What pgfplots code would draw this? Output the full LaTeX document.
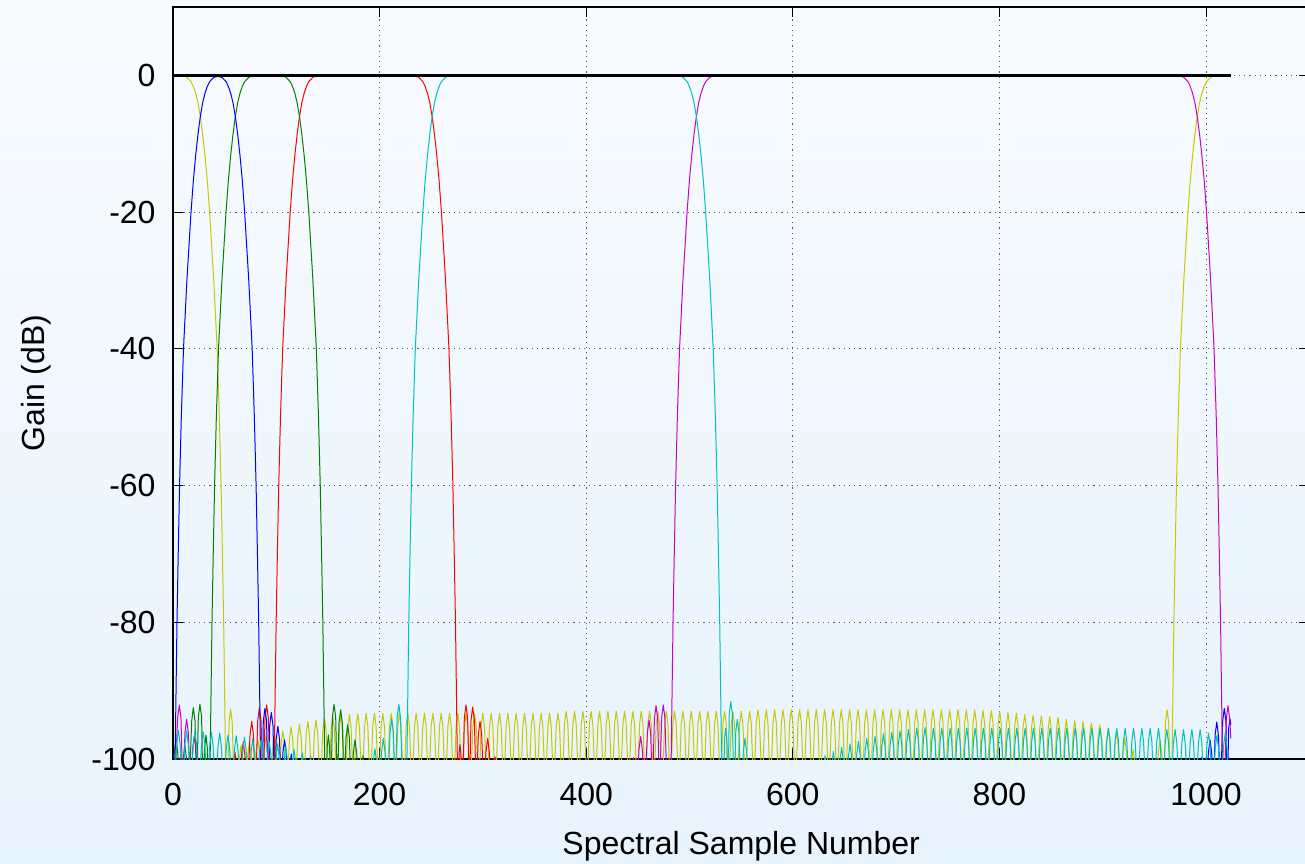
\documentclass[border=0pt]{standalone}
\usepackage{pgfplots}
\pgfplotsset{compat=1.18}
\usepackage{fontspec}
\setmainfont{Liberation Sans}
\definecolor{bgtop}{RGB}{248,251,254}
\definecolor{bgbot}{RGB}{231,243,253}
\definecolor{cR}{RGB}{255,0,0}
\definecolor{cG}{RGB}{0,128,0}
\definecolor{cB}{RGB}{0,0,255}
\definecolor{cM}{RGB}{200,0,200}
\definecolor{cC}{RGB}{0,191,191}
\definecolor{cY}{RGB}{200,200,0}
\begin{document}
\begin{tikzpicture}
\shade[top color=bgtop, bottom color=bgbot] (0,0) rectangle (652.5pt,431.5pt);
\begin{axis}[
 at={(86.5pt,52pt)}, anchor=south west, scale only axis,
 width=568.15pt, height=376pt,
 xmin=0, xmax=1100, ymin=-100, ymax=10,
 xtick={0,200,400,600,800,1000}, xticklabels={0,200,400,600,800,1000},
 ytick={-100,-80,-60,-40,-20,0}, yticklabels={-100,-80,-60,-40,-20,0},
 tick align=inside, major tick length=5pt, minor tick num=0,
 grid=major, grid style={black!65, line width=0.5pt, dash pattern=on 0.6pt off 2pt},
 axis line style={black, line width=0.6pt},
 tick style={black, line width=0.5pt},
 ticklabel style={font=\fontsize{16}{19}\selectfont},
 xticklabel style={yshift=-8.5pt},
 yticklabel style={xshift=-5.2pt},
 xlabel={Spectral Sample Number}, ylabel={Gain (dB)},
 label style={font=\fontsize{16}{19}\selectfont},
 xlabel style={at={(axis description cs:0.5,-0.116)}, anchor=center},
 ylabel style={at={(axis description cs:-0.1206,0.5)}, anchor=center},
 every axis plot/.append style={line width=0.5pt, line join=round},
]
% yellow (low + high band with long sidelobe train)
\addplot[cY] coordinates {
(0,0) (2.05,0) (6.35,-0.01) (10.15,-0.09) (13.45,-0.28) (17.45,-0.92) (19.7,-1.62) (21.95,-2.62) (24.2,-4.01) (26.45,-6.02) (28.7,-8.6) (30.95,-11.7) (33.2,-15.4) (35.45,-20) (39.45,-30) (42.75,-40) (44.85,-50) (46.55,-60) (47.85,-70) (49.05,-80) (49.95,-90) (50.85,-100) (52.5,-106)
(54.3,-94.6) (55.8,-92.7) (57.3,-94.6) (59.5,-106)
(61.9,-105) (64.3,-99.9) (65.9,-98) (67.5,-99.9)
(70.0,-105) (72.4,-99.4) (74.0,-97.5) (75.6,-99.4)
(78.0,-105) (80.4,-98.9) (82.0,-97) (83.6,-98.9)
(86.1,-105) (88.5,-98.5) (90.1,-96.6) (91.7,-98.5)
(94.2,-105) (96.6,-98.2) (98.2,-96.3) (99.8,-98.2)
(102.3,-105) (104.7,-97.8) (106.3,-95.9) (107.9,-97.8)
(110.3,-105) (112.7,-97.2) (114.3,-95.3) (115.9,-97.2)
(118.4,-105) (120.8,-96.8) (122.4,-94.9) (124.0,-96.8)
(126.5,-105) (128.9,-96.4) (130.5,-94.5) (132.1,-96.4)
(134.5,-105) (136.9,-96.2) (138.5,-94.3) (140.1,-96.2)
(142.6,-105) (145.0,-95.9) (146.6,-94.0) (148.2,-95.9)
(150.7,-105) (153.1,-95.7) (154.7,-93.8) (156.3,-95.7)
(158.7,-105) (161.1,-95.5) (162.7,-93.6) (164.3,-95.5)
(166.8,-105) (169.2,-95.4) (170.8,-93.5) (172.4,-95.4)
(174.9,-105) (177.3,-95.3) (178.9,-93.4) (180.5,-95.3)
(183.0,-105) (185.4,-95.2) (187.0,-93.3) (188.6,-95.2)
(191.0,-105) (193.4,-95.2) (195.0,-93.3) (196.6,-95.2)
(199.1,-105) (201.5,-95.2) (203.1,-93.3) (204.7,-95.2)
(207.2,-105) (209.6,-95.2) (211.2,-93.3) (212.8,-95.2)
(215.2,-105) (217.6,-95.2) (219.2,-93.3) (220.8,-95.2)
(223.3,-105) (225.7,-95.2) (227.3,-93.3) (228.9,-95.2)
(231.4,-105) (233.8,-95.2) (235.4,-93.3) (237.0,-95.2)
(239.4,-105) (241.8,-95.2) (243.4,-93.3) (245.0,-95.2)
(247.5,-105) (249.9,-95.2) (251.5,-93.3) (253.1,-95.2)
(255.6,-105) (258.0,-95.2) (259.6,-93.3) (261.2,-95.2)
(263.7,-105) (266.1,-95.2) (267.7,-93.3) (269.3,-95.2)
(271.7,-105) (274.1,-95.2) (275.7,-93.3) (277.3,-95.2)
(279.8,-105) (282.2,-95.2) (283.8,-93.3) (285.4,-95.2)
(287.9,-105) (290.3,-95.2) (291.9,-93.3) (293.5,-95.2)
(295.9,-105) (298.3,-95.2) (299.9,-93.3) (301.5,-95.2)
(304.0,-105) (306.4,-95.2) (308.0,-93.3) (309.6,-95.2)
(312.1,-105) (314.5,-95.2) (316.1,-93.3) (317.7,-95.2)
(320.1,-105) (322.5,-95.2) (324.1,-93.3) (325.7,-95.2)
(328.2,-105) (330.6,-95.2) (332.2,-93.3) (333.8,-95.2)
(336.3,-105) (338.7,-95.2) (340.3,-93.3) (341.9,-95.2)
(344.4,-105) (346.8,-95.2) (348.4,-93.3) (350.0,-95.2)
(352.4,-105) (354.8,-95.2) (356.4,-93.3) (358.0,-95.2)
(360.5,-105) (362.9,-95.2) (364.5,-93.3) (366.1,-95.2)
(368.6,-105) (371.0,-95.2) (372.6,-93.3) (374.2,-95.2)
(376.6,-105) (379.0,-94.9) (380.6,-93.0) (382.2,-94.9)
(384.7,-105) (387.1,-94.9) (388.7,-93.0) (390.3,-94.9)
(392.8,-105) (395.2,-94.9) (396.8,-93.0) (398.4,-94.9)
(400.8,-105) (403.2,-94.9) (404.8,-93.0) (406.4,-94.9)
(408.9,-105) (411.3,-94.9) (412.9,-93.0) (414.5,-94.9)
(417.0,-105) (419.4,-94.9) (421.0,-93.0) (422.6,-94.9)
(425.1,-105) (427.5,-94.9) (429.1,-93.0) (430.7,-94.9)
(433.1,-105) (435.5,-94.9) (437.1,-93.0) (438.7,-94.9)
(441.2,-105) (443.6,-94.9) (445.2,-93.0) (446.8,-94.9)
(449.3,-105) (451.7,-94.9) (453.3,-93.0) (454.9,-94.9)
(457.3,-105) (459.7,-94.9) (461.3,-93.0) (462.9,-94.9)
(465.4,-105) (467.8,-94.9) (469.4,-93.0) (471.0,-94.9)
(473.5,-105) (475.9,-94.9) (477.5,-93.0) (479.1,-94.9)
(481.5,-105) (483.9,-94.9) (485.5,-93.0) (487.1,-94.9)
(489.6,-105) (492.0,-94.9) (493.6,-93.0) (495.2,-94.9)
(497.7,-105) (500.1,-94.9) (501.7,-93.0) (503.3,-94.9)
(505.8,-105) (508.2,-94.9) (509.8,-93.0) (511.4,-94.9)
(513.8,-105) (516.2,-94.9) (517.8,-93.0) (519.4,-94.9)
(521.9,-105) (524.3,-94.9) (525.9,-93.0) (527.5,-94.9)
(530.0,-105) (532.4,-94.9) (534.0,-93.0) (535.6,-94.9)
(538.0,-105) (540.4,-94.9) (542.0,-93.0) (543.6,-94.9)
(546.1,-105) (548.5,-94.9) (550.1,-93.0) (551.7,-94.9)
(554.2,-105) (556.6,-94.9) (558.2,-93.0) (559.8,-94.9)
(562.2,-105) (564.6,-94.7) (566.2,-92.8) (567.8,-94.7)
(570.3,-105) (572.7,-94.7) (574.3,-92.8) (575.9,-94.7)
(578.4,-105) (580.8,-94.7) (582.4,-92.8) (584.0,-94.7)
(586.5,-105) (588.9,-94.7) (590.5,-92.8) (592.1,-94.7)
(594.5,-105) (596.9,-94.7) (598.5,-92.8) (600.1,-94.7)
(602.6,-105) (605.0,-94.7) (606.6,-92.8) (608.2,-94.7)
(610.7,-105) (613.1,-94.7) (614.7,-92.8) (616.3,-94.7)
(618.7,-105) (621.1,-94.7) (622.7,-92.8) (624.3,-94.7)
(626.8,-105) (629.2,-94.7) (630.8,-92.8) (632.4,-94.7)
(634.9,-105) (637.3,-94.7) (638.9,-92.8) (640.5,-94.7)
(642.9,-105) (645.3,-94.7) (646.9,-92.8) (648.5,-94.7)
(651.0,-105) (653.4,-94.7) (655.0,-92.8) (656.6,-94.7)
(659.1,-105) (661.5,-94.7) (663.1,-92.8) (664.7,-94.7)
(667.2,-105) (669.6,-94.7) (671.2,-92.8) (672.8,-94.7)
(675.2,-105) (677.6,-94.7) (679.2,-92.8) (680.8,-94.7)
(683.3,-105) (685.7,-94.7) (687.3,-92.8) (688.9,-94.7)
(691.4,-105) (693.8,-94.7) (695.4,-92.8) (697.0,-94.7)
(699.4,-105) (701.8,-94.7) (703.4,-92.8) (705.0,-94.7)
(707.5,-105) (709.9,-94.7) (711.5,-92.8) (713.1,-94.7)
(715.6,-105) (718.0,-94.7) (719.6,-92.8) (721.2,-94.7)
(723.6,-105) (726.0,-94.7) (727.6,-92.8) (729.2,-94.7)
(731.7,-105) (734.1,-94.7) (735.7,-92.8) (737.3,-94.7)
(739.8,-105) (742.2,-94.7) (743.8,-92.8) (745.4,-94.7)
(747.9,-105) (750.3,-94.7) (751.9,-92.8) (753.5,-94.7)
(755.9,-105) (758.3,-94.7) (759.9,-92.8) (761.5,-94.7)
(764.0,-105) (766.4,-94.7) (768.0,-92.8) (769.6,-94.7)
(772.1,-105) (774.5,-94.7) (776.1,-92.8) (777.7,-94.7)
(780.1,-105) (782.5,-94.8) (784.1,-92.9) (785.7,-94.8)
(788.2,-105) (790.6,-94.8) (792.2,-92.9) (793.8,-94.8)
(796.3,-105) (798.7,-95.0) (800.3,-93.1) (801.9,-95.0)
(804.3,-105) (806.7,-95.1) (808.3,-93.2) (809.9,-95.1)
(812.4,-105) (814.8,-95.2) (816.4,-93.3) (818.0,-95.2)
(820.5,-105) (822.9,-95.4) (824.5,-93.5) (826.1,-95.4)
(828.6,-105) (831.0,-95.5) (832.6,-93.6) (834.2,-95.5)
(836.6,-105) (839.0,-95.6) (840.6,-93.7) (842.2,-95.6)
(844.7,-105) (847.1,-95.7) (848.7,-93.8) (850.3,-95.7)
(852.8,-105) (855.2,-95.8) (856.8,-93.9) (858.4,-95.8)
(860.8,-105) (863.2,-96.1) (864.8,-94.2) (866.4,-96.1)
(868.9,-105) (871.3,-96.3) (872.9,-94.4) (874.5,-96.3)
(877.0,-105) (879.4,-96.4) (881.0,-94.5) (882.6,-96.4)
(885.0,-105) (887.4,-96.6) (889.0,-94.7) (890.6,-96.6)
(893.1,-105) (895.5,-96.9) (897.1,-95.0) (898.7,-96.9)
(901.2,-105) (903.6,-97.4) (905.2,-95.5) (906.8,-97.4)
(909.3,-105) (911.7,-97.9) (913.3,-96.0) (914.9,-97.9)
(917.3,-105) (919.7,-98.9) (921.3,-97.0) (922.9,-98.9)
(925.4,-105) (927.8,-100.5) (929.4,-98.6) (931.0,-100.5)
(933.4,-105) (950,-110) (952.0,-105)
(953.9,-99.1) (955.5,-97.2) (957.1,-99.1) (959.0,-105)
(960.7,-94.7) (962.3,-92.8) (963.9,-94.7) (965.5,-105)
(967.1,-100) (968,-90) (968.9,-80) (970.1,-70) (971.4,-60) (973.1,-50) (975.2,-40) (978.5,-30) (982.5,-20) (984.75,-15.4) (987,-11.7) (989.25,-8.6) (991.5,-6.02) (993.75,-4.01) (996,-2.62) (998.25,-1.62) (1000.5,-0.92) (1004.5,-0.28) (1007.8,-0.09) (1011.6,-0.01) (1015.9,0) (1024,0)
};
% red
\addplot[cR] coordinates {
(55,-110) (56.0,-105) (58.4,-100.9) (60.0,-99.0) (61.6,-100.9) (64.0,-105) (66.4,-99.4) (68.0,-97.5) (69.6,-99.4) (72.1,-105) (74.6,-96.4) (76.2,-94.5) (77.8,-96.4) (79.9,-105) (82.0,-94.4) (83.6,-92.5) (85.2,-94.4) (87.2,-105) (89.1,-94.0) (90.7,-92.1) (92.3,-94.0) (94.5,-105)
(98.05,-100) (98.95,-90) (99.85,-80) (101.05,-70) (102.35,-60) (104.05,-50) (106.15,-40) (109.45,-30) (113.45,-20) (115.7,-15.4) (117.95,-11.7) (120.2,-8.6) (122.45,-6.02) (124.7,-4.01) (126.95,-2.62) (129.2,-1.62) (131.45,-0.92) (135.45,-0.28) (138.75,-0.09) (142.55,-0.01) (146.85,0)
(226.45,0) (230.75,-0.01) (234.55,-0.09) (237.85,-0.28) (241.85,-0.92) (244.1,-1.62) (246.35,-2.62) (248.6,-4.01) (250.85,-6.02) (253.1,-8.6) (255.35,-11.7) (257.6,-15.4) (259.85,-20) (263.85,-30) (267.15,-40) (269.25,-50) (270.95,-60) (272.25,-70) (273.45,-80) (274.35,-90) (275.25,-100)
(276.2,-105) (277.0,-99.0) (277.8,-97.9) (278.6,-99.0) (280.4,-105) (282.0,-94.0) (283.6,-92.1) (285.2,-94.0) (286.9,-105) (288.5,-94.3) (290.1,-92.4) (291.7,-94.3) (293.6,-105) (295.6,-96.4) (297.2,-94.5) (298.8,-96.4) (300.9,-105) (303.0,-98.9) (304.6,-97.0) (306.2,-98.9) (308.2,-105) (310.1,-101.6) (311.7,-99.7) (313.3,-101.6) (315.5,-105)
};
% green
\addplot[cG] coordinates {
(0,-105) (1.3,-98.9) (2.9,-97.0) (4.5,-98.9) (7.2,-105) (9.9,-99.9) (11.5,-98.0) (13.1,-99.9) (15.6,-105) (18.1,-94.4) (19.7,-92.5) (21.3,-94.4) (22.9,-105) (24.5,-93.9) (26.1,-92.0) (27.7,-93.9) (29.0,-105) (30.6,-98.4) (31.9,-96.5) (33.2,-98.4) (34.5,-105)
(35.95,-100) (36.85,-90) (37.75,-80) (38.95,-70) (40.25,-60) (41.95,-50) (44.05,-40) (47.35,-30) (51.35,-20) (53.6,-15.4) (55.85,-11.7) (58.1,-8.6) (60.35,-6.02) (62.6,-4.01) (64.85,-2.62) (67.1,-1.62) (69.35,-0.92) (73.35,-0.28) (76.65,-0.09) (80.45,-0.01) (84.75,0)
(98.05,0) (102.35,-0.01) (106.15,-0.09) (109.45,-0.28) (113.45,-0.92) (115.7,-1.62) (117.95,-2.62) (120.2,-4.01) (122.45,-6.02) (124.7,-8.6) (126.95,-11.7) (129.2,-15.4) (131.45,-20) (135.45,-30) (138.75,-40) (140.85,-50) (142.55,-60) (143.85,-70) (145.05,-80) (145.95,-90) (146.85,-100)
(148.3,-105) (149.2,-98.4) (150.4,-96.5) (151.6,-98.4) (152.9,-105) (154.3,-93.9) (155.9,-92.0) (157.5,-93.9) (159.1,-105) (160.7,-94.7) (162.3,-92.8) (163.9,-94.7) (165.7,-105) (167.5,-96.9) (169.1,-95.0) (170.7,-96.9) (172.6,-105) (174.6,-99.1) (176.2,-97.2) (177.8,-99.1) (180.1,-105) (182.4,-101.4) (184.0,-99.5) (185.6,-101.4) (188,-105)
};
% blue
\addplot[cB] coordinates {
(0,-106) (2.05,-100) (2.95,-90) (3.85,-80) (5.05,-70) (6.35,-60) (8.05,-50) (10.15,-40) (13.45,-30) (17.45,-20) (19.7,-15.4) (21.95,-11.7) (24.2,-8.6) (26.45,-6.02) (28.7,-4.01) (30.95,-2.62) (33.2,-1.62) (35.45,-0.92) (39.45,-0.29) (43.4,-0.15) (47.35,-0.29) (51.35,-0.92) (53.6,-1.62) (55.85,-2.62) (58.1,-4.01) (60.35,-6.02) (62.6,-8.6) (64.85,-11.7) (67.1,-15.4) (69.35,-20) (73.35,-30) (76.65,-40) (78.75,-50) (80.45,-60) (81.75,-70) (82.95,-80) (83.85,-90) (84.75,-100)
(86.4,-105) (87.4,-94.5) (89.0,-92.6) (90.6,-94.5) (92.1,-105) (93.6,-95.1) (95.2,-93.2) (96.8,-95.1) (98.4,-105) (99.9,-97.1) (101.5,-95.2) (103.1,-97.1) (104.8,-105) (106.4,-99.1) (108.0,-97.2) (109.6,-99.1) (111.3,-105) (112.9,-101.2) (114.5,-99.3) (116.1,-101.2) (118,-105)
(120,-110) (990,-110)
(991.8,-105) (994.2,-101.7) (995.8,-99.8) (997.4,-101.7) (999.9,-105) (1002.3,-99.1) (1003.9,-97.2) (1005.5,-99.1) (1007.2,-105) (1008.8,-96.5) (1010.4,-94.6) (1012.0,-96.5) (1014.0,-105) (1016.1,-94.5) (1017.7,-92.6) (1019.3,-94.5) (1020.5,-105) (1022.0,-95.5) (1023.2,-94.1) (1024,-95)
};
% magenta
\addplot[cM] coordinates {
(1.5,-105) (4.5,-94.0) (6.1,-92.1) (7.7,-94.0) (9.6,-105) (11.6,-96.1) (13.2,-94.2) (14.8,-96.1) (16.9,-105) (19.0,-98.6) (20.6,-96.7) (22.2,-98.6) (24.6,-105) (30,-110) (440,-110)
(441.6,-105) (444.0,-101.7) (445.6,-99.8) (447.2,-101.7) (449.1,-105) (451.1,-98.6) (452.7,-96.7) (454.3,-98.6) (456.8,-105) (459.2,-96.2) (460.8,-94.3) (462.4,-96.2) (464.2,-105) (466.0,-94.1) (467.6,-92.2) (469.2,-94.1) (471.1,-105) (473.0,-94.0) (474.6,-92.1) (476.2,-94.0) (478.4,-105)
(482.25,-100) (483.15,-90) (484.05,-80) (485.25,-70) (486.55,-60) (488.25,-50) (490.35,-40) (493.65,-30) (497.65,-20) (499.9,-15.4) (502.15,-11.7) (504.4,-8.6) (506.65,-6.02) (508.9,-4.01) (511.15,-2.62) (513.4,-1.62) (515.65,-0.92) (519.65,-0.28) (522.95,-0.09) (526.75,-0.01) (531.05,0)
(967.1,0) (971.4,-0.01) (975.2,-0.09) (978.5,-0.28) (982.5,-0.92) (984.75,-1.62) (987,-2.62) (989.25,-4.01) (991.5,-6.02) (993.75,-8.6) (996,-11.7) (998.25,-15.4) (1000.5,-20) (1004.5,-30) (1007.8,-40) (1009.9,-50) (1011.6,-60) (1012.9,-70) (1014.1,-80) (1015,-90) (1015.9,-100)
(1017.6,-105) (1019.7,-94.1) (1021.3,-92.2) (1022.9,-94.1) (1024,-97)
};
% cyan
\addplot[cC] coordinates {
(1.2,-105) (3.6,-97.7) (5.2,-95.8) (6.8,-97.7)
(9.2,-105) (11.6,-97.8) (13.2,-95.9) (14.8,-97.8)
(17.2,-105) (19.6,-97.9) (21.2,-96.0) (22.8,-97.9)
(25.2,-105) (27.6,-97.9) (29.2,-96.0) (30.8,-97.9)
(33.2,-105) (35.6,-98.0) (37.2,-96.1) (38.8,-98.0)
(41.2,-105) (43.6,-98.1) (45.2,-96.2) (46.8,-98.1)
(49.2,-105) (51.6,-98.4) (53.2,-96.5) (54.8,-98.4)
(57.2,-105) (59.6,-98.5) (61.2,-96.6) (62.8,-98.5)
(65.2,-105) (67.6,-98.7) (69.2,-96.8) (70.8,-98.7)
(73.2,-105) (75.6,-99.0) (77.2,-97.1) (78.8,-99.0)
(81.2,-105) (83.6,-99.1) (85.2,-97.2) (86.8,-99.1)
(89.2,-105) (91.6,-99.4) (93.2,-97.5) (94.8,-99.4)
(97.2,-105) (99.6,-99.7) (101.2,-97.8) (102.8,-99.7)
(105.2,-105) (107.6,-100.1) (109.2,-98.2) (110.8,-100.1)
(113.2,-105) (115.6,-100.5) (117.2,-98.6) (118.8,-100.5)
(121.2,-105) (123.6,-101) (125.2,-99.1) (126.8,-101)
(129.2,-105) (131.6,-101.5) (133.2,-99.6) (134.8,-101.5)
(137.2,-105) (160,-110) (187.5,-105)
(191.5,-105) (193.9,-100.4) (195.5,-98.5) (197.1,-100.4)
(199.6,-105) (202.0,-98.9) (203.6,-97.0) (205.2,-98.9)
(207.7,-105) (210.1,-96.1) (211.7,-94.2) (213.3,-96.1)
(215.2,-105) (217.0,-93.9) (218.6,-92.0) (220.2,-93.9)
(222.5,-105)
(226.45,-100) (227.35,-90) (228.25,-80) (229.45,-70) (230.75,-60) (232.45,-50) (234.55,-40) (237.85,-30) (241.85,-20) (244.1,-15.4) (246.35,-11.7) (248.6,-8.6) (250.85,-6.02) (253.1,-4.01) (255.35,-2.62) (257.6,-1.62) (259.85,-0.92) (263.85,-0.28) (267.15,-0.09) (270.95,-0.01) (275.25,0)
(482.25,0) (486.55,-0.01) (490.35,-0.09) (493.65,-0.28) (497.65,-0.92) (499.9,-1.62) (502.15,-2.62) (504.4,-4.01) (506.65,-6.02) (508.9,-8.6) (511.15,-11.7) (513.4,-15.4) (515.65,-20) (519.65,-30) (522.95,-40) (525.05,-50) (526.75,-60) (528.05,-70) (529.25,-80) (530.15,-90) (531.05,-100)
(532.6,-106) (534.0,-97.0) (535.0,-95.5) (536.0,-97.0) (537.2,-106) (538.5,-93.3) (539.9,-91.6) (541.4,-93.3) (543.1,-106) (544.8,-96.0) (546.3,-94.2) (547.8,-96.0) (550.0,-106) (552.1,-98.9) (553.7,-97.0) (555.3,-98.9) (557.7,-106) (590,-110) (627.2,-105)
(629.6,-101.4) (631.2,-99.5) (632.8,-101.4)
(635.3,-105) (637.7,-100.8) (639.3,-98.9) (640.9,-100.8)
(643.3,-105) (645.7,-100.2) (647.3,-98.3) (648.9,-100.2)
(651.4,-105) (653.8,-99.7) (655.4,-97.8) (657.0,-99.7)
(659.5,-105) (661.9,-99.3) (663.5,-97.4) (665.1,-99.3)
(667.6,-105) (670.0,-98.9) (671.6,-97.0) (673.2,-98.9)
(675.6,-105) (678.0,-98.6) (679.6,-96.7) (681.2,-98.6)
(683.7,-105) (686.1,-98.2) (687.7,-96.3) (689.3,-98.2)
(691.8,-105) (694.2,-98.0) (695.8,-96.1) (697.4,-98.0)
(699.8,-105) (702.2,-97.8) (703.8,-95.9) (705.4,-97.8)
(707.9,-105) (710.3,-97.6) (711.9,-95.7) (713.5,-97.6)
(716.0,-105) (718.4,-97.4) (720.0,-95.5) (721.6,-97.4)
(724.0,-105) (726.4,-97.3) (728.0,-95.4) (729.6,-97.3)
(732.1,-105) (734.5,-97.4) (736.1,-95.5) (737.7,-97.4)
(740.2,-105) (742.6,-97.4) (744.2,-95.5) (745.8,-97.4)
(748.3,-105) (750.7,-97.4) (752.3,-95.5) (753.9,-97.4)
(756.3,-105) (758.7,-97.4) (760.3,-95.5) (761.9,-97.4)
(764.4,-105) (766.8,-97.4) (768.4,-95.5) (770.0,-97.4)
(772.5,-105) (774.9,-97.4) (776.5,-95.5) (778.1,-97.4)
(780.5,-105) (782.9,-97.4) (784.5,-95.5) (786.1,-97.4)
(788.6,-105) (791.0,-97.4) (792.6,-95.5) (794.2,-97.4)
(796.7,-105) (799.1,-97.4) (800.7,-95.5) (802.3,-97.4)
(804.7,-105) (807.1,-97.4) (808.7,-95.5) (810.3,-97.4)
(812.8,-105) (815.2,-97.4) (816.8,-95.5) (818.4,-97.4)
(820.9,-105) (823.3,-97.4) (824.9,-95.5) (826.5,-97.4)
(828.9,-105) (831.3,-97.4) (832.9,-95.5) (834.5,-97.4)
(837.0,-105) (839.4,-97.4) (841.0,-95.5) (842.6,-97.4)
(845.1,-105) (847.5,-97.4) (849.1,-95.5) (850.7,-97.4)
(853.2,-105) (855.6,-97.4) (857.2,-95.5) (858.8,-97.4)
(861.2,-105) (863.6,-97.4) (865.2,-95.5) (866.8,-97.4)
(869.3,-105) (871.7,-97.4) (873.3,-95.5) (874.9,-97.4)
(877.4,-105) (879.8,-97.4) (881.4,-95.5) (883.0,-97.4)
(885.4,-105) (887.8,-97.4) (889.4,-95.5) (891.0,-97.4)
(893.5,-105) (895.9,-97.4) (897.5,-95.5) (899.1,-97.4)
(901.6,-105) (904.0,-97.4) (905.6,-95.5) (907.2,-97.4)
(909.6,-105) (912.0,-97.4) (913.6,-95.5) (915.2,-97.4)
(917.7,-105) (920.1,-97.4) (921.7,-95.5) (923.3,-97.4)
(925.8,-105) (928.2,-97.4) (929.8,-95.5) (931.4,-97.4)
(933.9,-105) (936.3,-97.4) (937.9,-95.5) (939.5,-97.4)
(941.9,-105) (944.3,-97.4) (945.9,-95.5) (947.5,-97.4)
(950.0,-105) (952.4,-97.4) (954.0,-95.5) (955.6,-97.4)
(958.1,-105) (960.5,-97.6) (962.1,-95.7) (963.7,-97.6)
(966.1,-105) (968.5,-97.6) (970.1,-95.7) (971.7,-97.6)
(974.2,-105) (976.6,-97.6) (978.2,-95.7) (979.8,-97.6)
(982.3,-105) (984.7,-97.6) (986.3,-95.7) (987.9,-97.6)
(990.3,-105) (992.7,-97.6) (994.3,-95.7) (995.9,-97.6)
(998.4,-105) (1000.8,-98.1) (1002.4,-96.2) (1004.0,-98.1)
(1006.5,-105) (1008.9,-98.4) (1010.5,-96.5) (1012.1,-98.4)
(1014.6,-105) (1017.0,-98.1) (1018.6,-96.2) (1020.2,-98.1)
(1022.6,-105)
};
% black sum
\addplot[black, line width=1.5pt] coordinates {(0,0) (1024,0)};
\end{axis}
\pgfresetboundingbox
\path[use as bounding box] (0,0) rectangle (652.5pt,431.5pt);
\end{tikzpicture}
\end{document}
